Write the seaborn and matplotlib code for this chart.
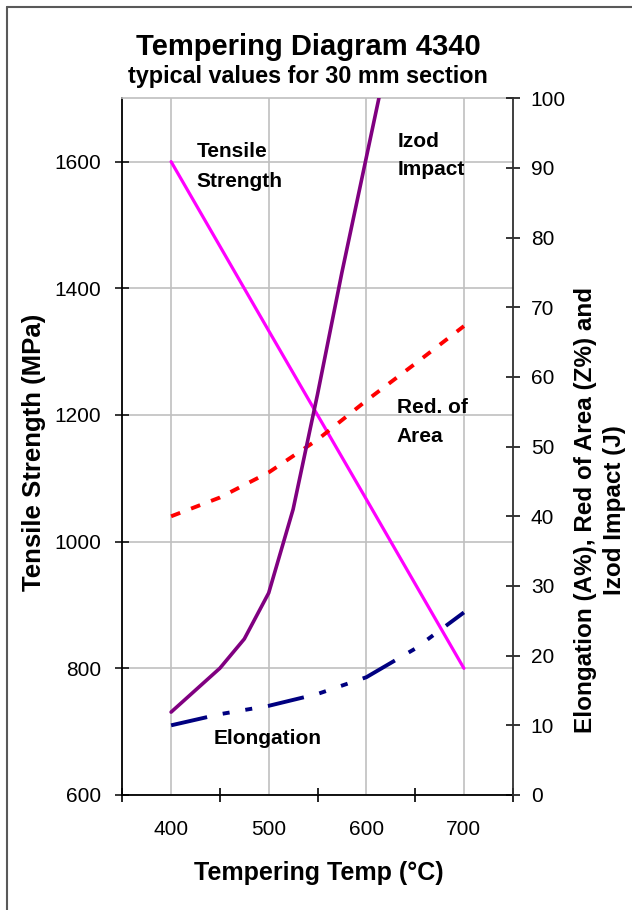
import matplotlib
matplotlib.use("Agg")
import matplotlib.pyplot as plt
from matplotlib.lines import Line2D
import seaborn as sns

# ---------------- data ----------------
temps_tensile = [400, 500, 600, 700]
tensile_mpa = [1600, 1333, 1067, 800]

temps_elong = [400, 450, 500, 550, 600, 650, 700]
elongation = [10.0, 11.6, 12.8, 14.5, 16.9, 21.0, 26.2]

temps_area = [400, 450, 500, 550, 600, 650, 700]
red_area = [40.0, 42.7, 46.3, 51.0, 56.6, 61.9, 67.3]

temps_izod = [400, 450, 475, 500, 525, 550, 575, 600, 625]
izod_impact = [11.9, 18.2, 22.4, 29.0, 41.0, 57.5, 75.0, 91.5, 108.0]

x_ticks = [400, 500, 600, 700]
left_ticks = [600, 800, 1000, 1200, 1400, 1600]
right_ticks = [0, 10, 20, 30, 40, 50, 60, 70, 80, 90, 100]

title = "Tempering Diagram 4340"
subtitle = "typical values for 30 mm section"
xlabel = "Tempering Temp (°C)"
ylabel_left = "Tensile Strength (MPa)"
ylabel_right = "Elongation (A%), Red of Area (Z%) and\nIzod Impact (J)"

# ---------------- style ----------------
sns.set_theme(style="white")
plt.rcParams['font.family'] = ['Liberation Sans', 'DejaVu Sans']
plt.rcParams['text.color'] = 'black'
plt.rcParams['xtick.color'] = 'black'
plt.rcParams['ytick.color'] = 'black'

W, H = 632, 910
fig = plt.figure(figsize=(W / 100, H / 100), dpi=100)


def px(x, y):
    return x / W, 1 - y / H


L, R, T, B = 122.3, 512.7, 98.3, 795.0
ax = fig.add_axes([L / W, 1 - B / H, (R - L) / W, (B - T) / H])
ax2 = ax.twinx()

# ---------------- lines ----------------
sns.lineplot(x=temps_tensile, y=tensile_mpa, ax=ax, color='#FF00FF', linewidth=2.3)

sns.lineplot(x=temps_area, y=red_area, ax=ax2, color='#FF0000', linewidth=2.8)
ax2.lines[-1].set_dashes([2.5, 3.0])
sns.lineplot(x=temps_elong, y=elongation, ax=ax2, color='#000080', linewidth=2.8)
ax2.lines[-1].set_dashes([9.5, 4.1, 1.8, 4.1, 1.8, 4.1])
sns.lineplot(x=temps_izod, y=izod_impact, ax=ax2, color='#800080', linewidth=2.6)

# ---------------- axes ----------------
ax.set_xlim(350, 750)
ax.set_ylim(600, 1700)
ax2.set_ylim(0, 100)

ax.set_xticks(x_ticks)
ax.set_xticklabels([str(v) for v in x_ticks])
ax.set_xticks([350, 450, 550, 650, 750], minor=True)
ax.tick_params(axis='x', which='major', length=0, pad=18, labelsize=15)
ax.tick_params(axis='x', which='minor', direction='inout', length=10, width=1.2, bottom=True)

ax.set_yticks(left_ticks)
ax.set_yticklabels([str(v) for v in left_ticks])
ax.tick_params(axis='y', which='major', direction='inout', length=10, width=1.1, pad=10, labelsize=15, left=True)

ax2.set_yticks(right_ticks)
ax2.set_yticklabels([str(v) for v in right_ticks])
ax2.tick_params(axis='y', which='major', direction='inout', length=10, width=1.1, pad=8, labelsize=15, right=True)

ax.grid(True, which='major', color='#C0C0C0', linewidth=1.2)
ax.set_axisbelow(True)
ax2.grid(False)
ax.set_xlabel('')
ax.set_ylabel('')
ax2.set_xlabel('')
ax2.set_ylabel('')

for s in ['left', 'bottom']:
    ax.spines[s].set_color('black')
    ax.spines[s].set_linewidth(1.3)
ax.spines['top'].set_color('#BFBFBF')
ax.spines['top'].set_linewidth(1.2)
ax.spines['right'].set_visible(False)
for s in ['left', 'bottom', 'top']:
    ax2.spines[s].set_visible(False)
ax2.spines['right'].set_color('#303030')
ax2.spines['right'].set_linewidth(1.3)

# ---------------- annotations ----------------
ann = [("Tensile", 196.7, 156.7), ("Strength", 196.7, 186.7),
       ("Izod", 398, 146.7), ("Impact", 398, 175),
       ("Red. of", 396.7, 413), ("Area", 396.7, 442),
       ("Elongation", 213.3, 744)]
for txt, x, y in ann:
    fx, fy = px(x, y)
    fig.text(fx, fy, txt, ha='left', va='baseline', fontsize=15, fontweight='bold')

fx, fy = px(308, 55)
fig.text(fx, fy, title, ha='center', va='baseline', fontsize=21, fontweight='bold')
fx, fy = px(308, 83.3)
fig.text(fx, fy, subtitle, ha='center', va='baseline', fontsize=16.8, fontweight='bold')
fx, fy = px(319, 880)
fig.text(fx, fy, xlabel, ha='center', va='baseline', fontsize=18, fontweight='bold')
fx, fy = px(34, 452)
fig.text(fx, fy, ylabel_left, ha='center', va='center', rotation=90, fontsize=18.5, fontweight='bold')
fx, fy = px(600, 510)
fig.text(fx, fy, ylabel_right, ha='center', va='center', rotation=90, fontsize=17.5,
         fontweight='bold', multialignment='center', linespacing=1.3)

# ---------------- frame ----------------
fig.add_artist(Line2D([6.5 / W, 1], [1 - 6.5 / H, 1 - 6.5 / H], color='#595959', linewidth=1.5))
fig.add_artist(Line2D([6.5 / W, 6.5 / W], [0, 1 - 6.5 / H], color='#595959', linewidth=1.5))

fig.savefig('out.png', dpi=100)
